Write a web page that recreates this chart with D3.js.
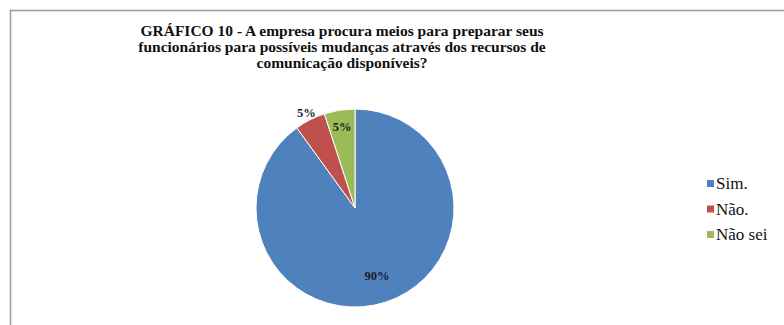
<!DOCTYPE html>
<html>
<head>
<meta charset="utf-8">
<script src="https://cdn.jsdelivr.net/npm/d3@7"></script>
<style>
  body { margin: 0; background: #fff; }
  svg { display: block; }
  .serif { font-family: "Liberation Serif", "DejaVu Serif", "Times New Roman", Times, serif; }
</style>
</head>
<body>
<div class="chart"></div>
<script>
// Pie chart - Gráfico 10
let svgWidth = 784;
let svgHeight = 325;

let titleLines = [
  "GRÁFICO 10 - A empresa procura meios para preparar seus",
  "funcionários para possíveis mudanças através dos recursos de",
  "comunicação disponíveis?"
];
let categories = ["Sim.", "Não.", "Não sei"];
let values = [90, 5, 5];
let colors = ["#4F81BD", "#C0504D", "#9BBB59"];

let cx = 355, cy = 208, radius = 99;

let svg = d3.select(".chart")
  .append("svg")
  .attr("width", svgWidth)
  .attr("height", svgHeight);

// chart area border
svg.append("rect")
  .attr("x", 10.5)
  .attr("y", 10.5)
  .attr("width", svgWidth + 20)
  .attr("height", svgHeight + 20)
  .attr("fill", "#fff")
  .attr("stroke", "#9a9a9a")
  .attr("stroke-width", 1.5);

// title
svg.append("text")
  .attr("class", "serif")
  .attr("transform", "translate(342, 36)")
  .attr("text-anchor", "middle")
  .style("font-weight", "bold")
  .style("font-size", "15.5px")
  .style("fill", "#111")
  .selectAll("tspan")
  .data(titleLines)
  .enter()
  .append("tspan")
  .attr("x", 0)
  .attr("dy", (d, i) => i === 0 ? 0 : 15.8)
  .text(d => d);

// pie
let data = categories.map((c, i) => ({ cat: c, value: values[i], color: colors[i] }));
let pie = d3.pie().sort(null).value(d => d.value);
let arc = d3.arc().innerRadius(0).outerRadius(radius);

let g = svg.append("g").attr("transform", `translate(${cx}, ${cy})`);

let arcs = pie(data);

g.selectAll("path")
  .data(arcs)
  .enter()
  .append("path")
  .attr("d", arc)
  .attr("fill", d => d.data.color)
  .attr("stroke", "#fff")
  .attr("stroke-width", 1);

// data labels (positions follow each slice)
let labelArcs = [
  d3.arc().innerRadius(radius * 0.72).outerRadius(radius * 0.72),
  d3.arc().innerRadius(radius * 1.08).outerRadius(radius * 1.08),
  d3.arc().innerRadius(radius * 0.83).outerRadius(radius * 0.83)
];

g.selectAll(".pct")
  .data(arcs)
  .enter()
  .append("text")
  .attr("class", "pct serif")
  .attr("transform", (d, i) => `translate(${labelArcs[i].centroid(d)})`)
  .attr("text-anchor", "middle")
  .attr("dy", "0.35em")
  .style("font-weight", "bold")
  .style("font-size", "12.5px")
  .style("fill", "#1a1a2a")
  .text(d => d.data.value + "%");

// legend
let legend = svg.append("g").attr("transform", "translate(707, 183.5)");

let items = legend.selectAll("g")
  .data(data)
  .enter()
  .append("g")
  .attr("transform", (d, i) => `translate(0, ${i * 25.5})`);

items.append("rect")
  .attr("x", 0)
  .attr("y", -3.5)
  .attr("width", 7)
  .attr("height", 7)
  .attr("fill", d => d.color);

items.append("text")
  .attr("class", "serif")
  .attr("x", 9)
  .attr("dy", "0.35em")
  .style("font-size", "17px")
  .style("fill", "#111")
  .text(d => d.cat);
</script>
</body>
</html>
